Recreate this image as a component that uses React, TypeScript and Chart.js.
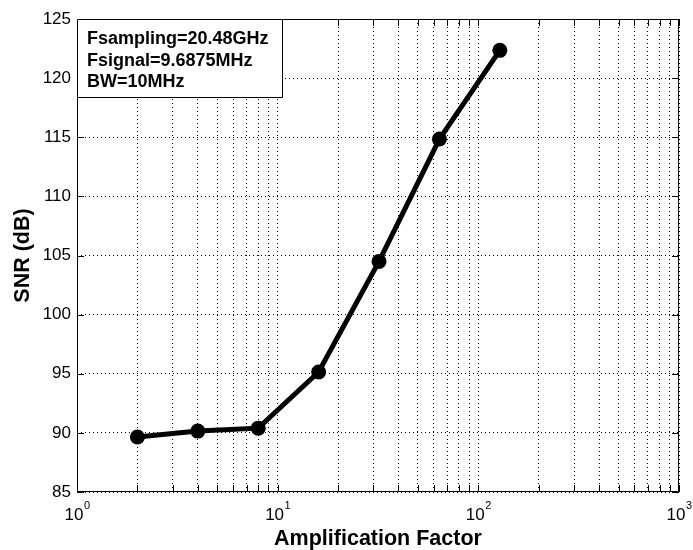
import React, { useEffect, useRef } from 'react';
import { Chart, registerables } from 'chart.js';

Chart.register(...registerables);

// ---- data ----
const amplificationFactor = [2, 4, 8, 16, 32, 64, 128];
const snrDb = [89.65, 90.15, 90.4, 95.15, 104.5, 114.85, 122.35];
const xTickValues = [
  1, 2, 3, 4, 5, 6, 7, 8, 9,
  10, 20, 30, 40, 50, 60, 70, 80, 90,
  100, 200, 300, 400, 500, 600, 700, 800, 900,
  1000,
];
const xMajorTicks = [1, 10, 100, 1000];
const xMajorExponents = ['0', '1', '2', '3'];
const yMin = 85;
const yMax = 125;
const yStep = 5;
const infoLines = ['Fsampling=20.48GHz', 'Fsignal=9.6875MHz', 'BW=10MHz'];
const xTitle = 'Amplification Factor';
const yTitle = 'SNR (dB)';

const FONT = '"Liberation Sans", Arial, Helvetica, sans-serif';

const boxPlugin = {
  id: 'matlabBox',
  afterDatasetsDraw(chart: any) {
    const { ctx, chartArea } = chart;
    const { left, right, top, bottom } = chartArea;
    const xs = chart.scales.x;
    const ys = chart.scales.y;
    ctx.save();
    ctx.strokeStyle = '#000';
    ctx.lineWidth = 1;
    ctx.setLineDash([]);
    ctx.beginPath();
    ctx.rect(left + 0.5, top + 0.5, right - left - 1, bottom - top - 1);
    ctx.stroke();
    const tl = 7;
    ctx.beginPath();
    for (const v of xTickValues) {
      const px = Math.round(xs.getPixelForValue(v)) + 0.5;
      ctx.moveTo(px, bottom);
      ctx.lineTo(px, bottom - tl);
      ctx.moveTo(px, top);
      ctx.lineTo(px, top + tl);
    }
    for (let v = yMin; v <= yMax; v += yStep) {
      const py = Math.round(ys.getPixelForValue(v)) + 0.5;
      ctx.moveTo(left, py);
      ctx.lineTo(left + tl, py);
      ctx.moveTo(right, py);
      ctx.lineTo(right - tl, py);
    }
    ctx.stroke();

    // x tick labels: 10 with superscript exponent
    ctx.fillStyle = '#000';
    ctx.textAlign = 'left';
    ctx.textBaseline = 'alphabetic';
    xMajorTicks.forEach((v, i) => {
      const px = xs.getPixelForValue(v);
      ctx.font = `17px ${FONT}`;
      const wBase = ctx.measureText('10').width;
      ctx.font = `11px ${FONT}`;
      const wExp = ctx.measureText(xMajorExponents[i]).width;
      const x0 = px - (wBase + wExp) / 2;
      ctx.font = `17px ${FONT}`;
      ctx.fillText('10', x0, bottom + 28);
      ctx.font = `11px ${FONT}`;
      ctx.fillText(xMajorExponents[i], x0 + wBase + 0.5, bottom + 17);
    });

    // info box
    const bw = 205;
    const bh = 78;
    ctx.fillStyle = '#fff';
    ctx.fillRect(left, top, bw, bh);
    ctx.beginPath();
    ctx.rect(left + 0.5, top + 0.5, bw, bh);
    ctx.stroke();
    ctx.fillStyle = '#000';
    ctx.font = `bold 18px ${FONT}`;
    infoLines.forEach((t, i) => {
      ctx.fillText(t, left + 10, top + 25 + i * 21.5);
    });
    ctx.restore();
  },
};

export default function App() {
  const ref = useRef<HTMLCanvasElement | null>(null);

  useEffect(() => {
    if (!ref.current) return;
    const chart = new Chart(ref.current, {
      type: 'line',
      data: {
        datasets: [
          {
            data: amplificationFactor.map((x, i) => ({ x, y: snrDb[i] })),
            borderColor: '#000',
            backgroundColor: '#000',
            borderWidth: 5,
            pointRadius: 7.5,
            pointBackgroundColor: '#000',
            pointBorderColor: '#000',
            pointBorderWidth: 0,
            tension: 0,
          },
        ],
      },
      options: {
        responsive: false,
        animation: false,
        events: [],
        layout: { padding: { left: 0, top: 19, right: 14, bottom: 0 } },
        plugins: { legend: { display: false }, tooltip: { enabled: false } },
        scales: {
          x: {
            type: 'logarithmic',
            min: 1,
            max: 1000,
            afterBuildTicks: (scale: any) => {
              scale.ticks = xTickValues.map((v) => ({ value: v }));
            },
            afterFit: (scale: any) => {
              scale.height = 58;
            },
            ticks: {
              autoSkip: false,
              maxRotation: 0,
              minRotation: 0,
              padding: 9,
              color: '#000',
              font: { family: FONT, size: 16 },
              callback: () => '',
            },
            grid: { color: '#000', lineWidth: 1, drawTicks: false },
            border: { display: false, dash: [1, 3] },
            title: {
              display: true,
              text: xTitle,
              color: '#000',
              font: { family: FONT, size: 21.5, weight: 'bold', lineHeight: 1 },
              padding: { top: 0, bottom: 0 },
            },
          },
          y: {
            type: 'linear',
            min: yMin,
            max: yMax,
            afterFit: (scale: any) => {
              scale.width = 77;
            },
            ticks: {
              stepSize: yStep,
              padding: 6,
              color: '#000',
              font: { family: FONT, size: 17 },
            },
            grid: { color: '#000', lineWidth: 1, drawTicks: false },
            border: { display: false, dash: [1, 3] },
            title: {
              display: true,
              text: yTitle,
              color: '#000',
              font: { family: FONT, size: 21.5, weight: 'bold', lineHeight: 1 },
              padding: { top: 12, bottom: 0 },
            },
          },
        },
      },
      plugins: [boxPlugin],
    } as any);
    return () => chart.destroy();
  }, []);

  return (
    <div style={{ position: 'absolute', left: 0, top: 0, width: 693, height: 550, background: '#fff' }}>
      <canvas ref={ref} width={693} height={550} />
    </div>
  );
}
